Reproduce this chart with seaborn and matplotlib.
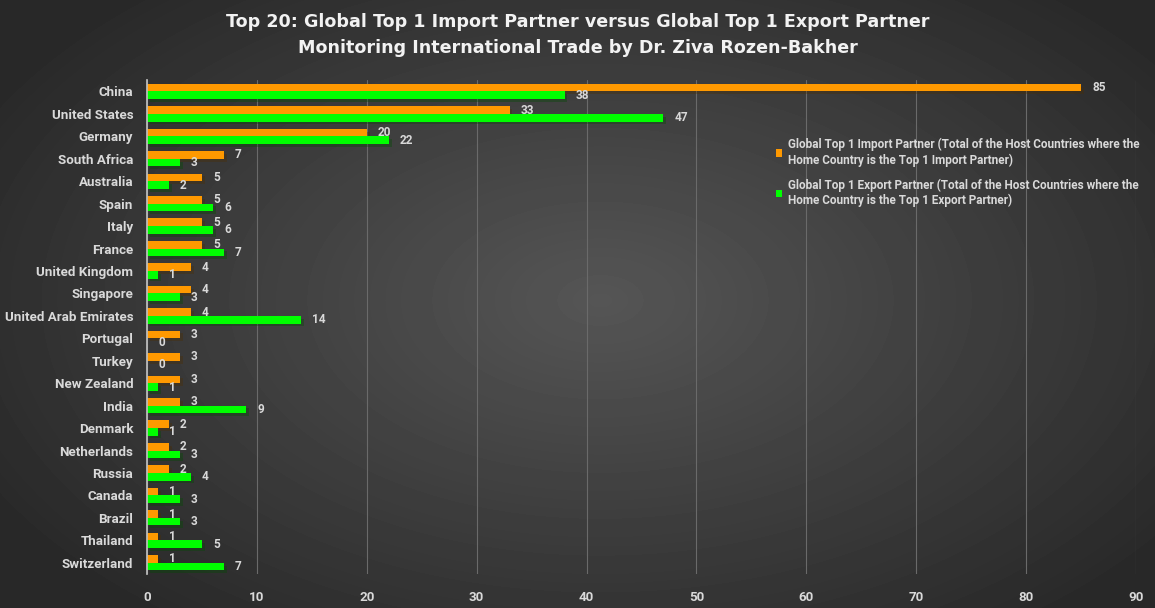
import numpy as np
import pandas as pd
import seaborn as sns
import matplotlib.pyplot as plt
import matplotlib.patheffects as pe

countries = ["China", "United States", "Germany", "South Africa", "Australia", "Spain",
             "Italy", "France", "United Kingdom", "Singapore", "United Arab Emirates",
             "Portugal", "Turkey", "New Zealand", "India", "Denmark", "Netherlands",
             "Russia", "Canada", "Brazil", "Thailand", "Switzerland"]
import_partner = [85, 33, 20, 7, 5, 5, 5, 5, 4, 4, 4, 3, 3, 3, 3, 2, 2, 2, 1, 1, 1, 1]
export_partner = [38, 47, 22, 3, 2, 6, 6, 7, 1, 3, 14, 0, 0, 1, 9, 1, 3, 4, 3, 3, 5, 7]

imp_label = ("Global Top 1 Import Partner (Total of the Host Countries where the\n"
             "Home Country is the Top 1 Import Partner)")
exp_label = ("Global Top 1 Export Partner (Total of the Host Countries where the\n"
             "Home Country is the Top 1 Export Partner)")

df = pd.DataFrame({"country": countries, imp_label: import_partner, exp_label: export_partner})
long_df = df.melt(id_vars="country", var_name="series", value_name="value")

sns.set_theme(style="dark")
plt.rcParams["font.family"] = ["Roboto", "DejaVu Sans"]
txt_color = "#d9d9d9"

fig = plt.figure(figsize=(11.55, 6.08), dpi=100)

# radial gradient background
bg = fig.add_axes([0, 0, 1, 1], zorder=0)
yy, xx = np.mgrid[0:608, 0:1155]
r = np.sqrt(((xx - 600) / 680) ** 2 + ((yy - 300) / 400) ** 2)
shade = np.clip(0.335 - 0.17 * r, 0.16, 0.335)
bg.imshow(shade, cmap="gray", vmin=0, vmax=1, aspect="auto")
bg.axis("off")

ax = fig.add_axes([0.1273, 0.056, 0.8562, 0.812], zorder=1)
ax.patch.set_alpha(0)

sns.barplot(data=long_df, y="country", x="value", hue="series", orient="h",
            palette=["#ff9900", "#00ff00"], width=0.68, ax=ax, saturation=1,
            linewidth=0, edgecolor="none")

for patch in ax.patches:
    patch.set_path_effects([pe.SimplePatchShadow(offset=(2, -2), alpha=0.35), pe.Normal()])

for cont in ax.containers:
    ax.bar_label(cont, padding=8, color=txt_color, fontsize=8.5, fontweight="bold")

ax.set_xlim(0, 90)
ax.set_xticks(range(0, 91, 10))
ax.set_xlabel("")
ax.set_ylabel("")
ax.grid(axis="x", color="#6a6a6a", linewidth=0.8)
ax.grid(axis="y", visible=False)
for s in ["top", "right", "bottom"]:
    ax.spines[s].set_visible(False)
ax.spines["left"].set_color("#bfbfbf")
ax.tick_params(axis="both", colors=txt_color, labelsize=9.6, length=0)
ax.tick_params(axis="y", pad=10)
ax.tick_params(axis="x", pad=12)
for lbl in ax.get_xticklabels() + ax.get_yticklabels():
    lbl.set_fontweight("bold")

leg = ax.legend(loc="upper left", bbox_to_anchor=(770 / 1155, 1 - 132 / 608),
                bbox_transform=fig.transFigure, frameon=False, fontsize=8.5,
                handlelength=0.55, handleheight=0.55, handletextpad=0.5,
                labelspacing=1.0, labelcolor=txt_color, borderpad=0)
for t in leg.get_texts():
    t.set_fontweight("bold")
for h in leg.legend_handles:
    h.set_path_effects([])

title_kw = dict(ha="center", va="center", color="#f2f2f2", fontsize=12.6,
                fontweight="bold", family=["DejaVu Sans"])
fig.text(0.5, 1 - 22 / 608, "Top 20: Global Top 1 Import Partner versus Global Top 1 Export Partner",
         **title_kw)
fig.text(0.5, 1 - 48 / 608, "Monitoring International Trade by Dr. Ziva Rozen-Bakher", **title_kw)

plt.savefig("out.png", dpi=100)
